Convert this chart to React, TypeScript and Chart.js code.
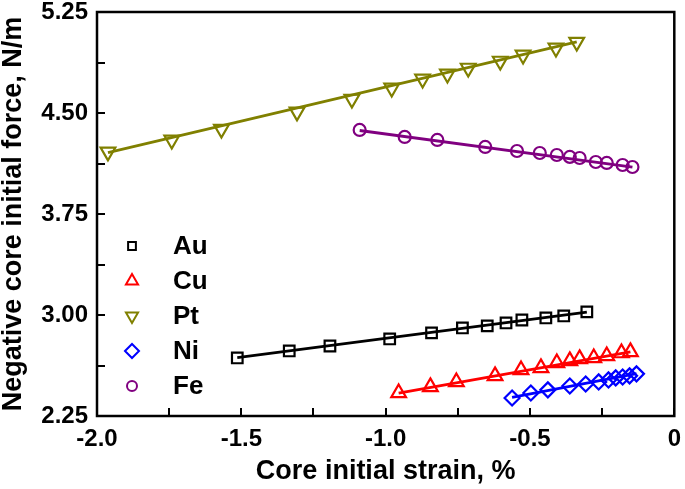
import React, { useEffect, useRef } from 'react';
import { Chart, registerables } from 'chart.js';
import { drawPoint } from 'chart.js/helpers';

Chart.register(...registerables);

const seriesNames = ['Au', 'Cu', 'Pt', 'Ni', 'Fe'];
const seriesColors = ['#000000', '#FF0000', '#808000', '#0000FF', '#800080'];

const auStrain = [-1.514, -1.334, -1.193, -0.986, -0.841, -0.734, -0.648, -0.583, -0.528, -0.445, -0.383, -0.303];
const auForce = [2.681, 2.733, 2.770, 2.822, 2.867, 2.904, 2.919, 2.941, 2.963, 2.978, 2.993, 3.023];

const cuStrain = [-0.955, -0.845, -0.755, -0.621, -0.531, -0.462, -0.407, -0.362, -0.328, -0.279, -0.234, -0.183, -0.152];
const cuForce = [2.421, 2.466, 2.503, 2.548, 2.592, 2.607, 2.644, 2.659, 2.674, 2.681, 2.696, 2.718, 2.726];

const ptStrain = [-1.962, -1.741, -1.569, -1.307, -1.117, -0.979, -0.872, -0.786, -0.714, -0.603, -0.524, -0.410, -0.338];
const ptForce = [4.211, 4.300, 4.381, 4.508, 4.604, 4.686, 4.753, 4.790, 4.834, 4.886, 4.931, 4.983, 5.027];

const niStrain = [-0.562, -0.497, -0.438, -0.362, -0.307, -0.262, -0.228, -0.203, -0.179, -0.155, -0.131];
const niForce = [2.384, 2.421, 2.444, 2.473, 2.488, 2.503, 2.518, 2.533, 2.540, 2.548, 2.563];

const feStrain = [-1.090, -0.934, -0.821, -0.655, -0.545, -0.466, -0.407, -0.362, -0.328, -0.272, -0.234, -0.179, -0.145];
const feForce = [4.374, 4.322, 4.300, 4.248, 4.218, 4.203, 4.188, 4.174, 4.166, 4.136, 4.129, 4.114, 4.099];

// fitted straight lines (end points)
const auFitStrain = [-1.514, -0.303];
const auFitForce = [2.683, 3.022];
const cuFitStrain = [-0.955, -0.152];
const cuFitForce = [2.420, 2.726];
const ptFitStrain = [-1.962, -0.338];
const ptFitForce = [4.205, 5.028];
const niFitStrain = [-0.562, -0.131];
const niFitForce = [2.388, 2.565];
const feFitStrain = [-1.090, -0.145];
const feFitForce = [4.370, 4.098];

const xMin = -2.0;
const xMax = 0;
const xMajorStep = 0.5;
const xMinorStep = 0.25;
const yMin = 2.25;
const yMax = 5.25;
const yMajorStep = 0.75;
const yMinorStep = 0.375;

const FONT = '"Liberation Sans", Arial, Helvetica, sans-serif';

const toPts = (xs: number[], ys: number[]) => xs.map((x, i) => ({ x, y: ys[i] }));

const markerStyles: any[] = [
  { style: 'rect', radius: 7.5, rotation: 0 },
  { style: 'triangle', radius: 8.5, rotation: 0 },
  { style: 'triangle', radius: 8.5, rotation: 180 },
  { style: 'rectRot', radius: 7.5, rotation: 0 },
  { style: 'circle', radius: 6, rotation: 0 },
];
const legendMarkerRadius = [5.5, 7, 7, 7, 5];

const frameAndLegend = {
  id: 'frameAndLegend',
  afterDraw(chart: any) {
    const { ctx, chartArea } = chart;
    const { left, right, top, bottom } = chartArea;
    const xs = chart.scales.x;
    const ys = chart.scales.y;
    ctx.save();
    ctx.strokeStyle = '#000';
    ctx.lineWidth = 2.5;
    ctx.strokeRect(left, top, right - left, bottom - top);
    const tl = 8;
    ctx.lineWidth = 2;
    ctx.beginPath();
    for (let v = xMin; v <= xMax + 1e-9; v += xMinorStep) {
      const p = Math.round(xs.getPixelForValue(v));
      ctx.moveTo(p, bottom);
      ctx.lineTo(p, bottom - tl);
    }
    for (let v = yMin; v <= yMax + 1e-9; v += yMinorStep) {
      const p = Math.round(ys.getPixelForValue(v));
      ctx.moveTo(left, p);
      ctx.lineTo(left + tl, p);
    }
    ctx.stroke();

    // legend
    const lx = 132;
    const tx = 173;
    const y0 = 246;
    const dy = 35;
    ctx.textBaseline = 'middle';
    ctx.textAlign = 'left';
    ctx.font = `bold 26px ${FONT}`;
    seriesNames.forEach((name, i) => {
      const cy = y0 + i * dy;
      ctx.strokeStyle = seriesColors[i];
      ctx.fillStyle = 'rgba(0,0,0,0)';
      ctx.lineWidth = 2;
      drawPoint(ctx, {
        pointStyle: markerStyles[i].style,
        radius: legendMarkerRadius[i],
        rotation: markerStyles[i].rotation,
        borderWidth: 2,
      } as any, lx, cy);
      ctx.fillStyle = '#000';
      ctx.fillText(name, tx, cy + 1);
    });
    ctx.restore();
  },
};

export default function App() {
  const ref = useRef<HTMLCanvasElement>(null);
  useEffect(() => {
    if (!ref.current) return;
    const markerData = [
      toPts(auStrain, auForce),
      toPts(cuStrain, cuForce),
      toPts(ptStrain, ptForce),
      toPts(niStrain, niForce),
      toPts(feStrain, feForce),
    ];
    const fitData = [
      toPts(auFitStrain, auFitForce),
      toPts(cuFitStrain, cuFitForce),
      toPts(ptFitStrain, ptFitForce),
      toPts(niFitStrain, niFitForce),
      toPts(feFitStrain, feFitForce),
    ];
    const datasets: any[] = [];
    seriesNames.forEach((name, i) => {
      datasets.push({
        label: name + ' fit',
        data: fitData[i],
        showLine: true,
        borderColor: seriesColors[i],
        borderWidth: 2.8,
        pointRadius: 0,
        fill: false,
      });
      datasets.push({
        label: name,
        data: markerData[i],
        showLine: false,
        borderColor: seriesColors[i],
        backgroundColor: 'rgba(0,0,0,0)',
        pointStyle: markerStyles[i].style,
        pointRadius: markerStyles[i].radius,
        pointRotation: markerStyles[i].rotation,
        pointBorderWidth: 2.2,
      });
    });
    const chart = new Chart(ref.current, {
      type: 'scatter',
      data: { datasets },
      options: {
        responsive: false,
        animation: false,
        devicePixelRatio: 1,
        layout: { padding: { top: 12, right: 8, left: 0, bottom: 0 } },
        plugins: { legend: { display: false }, tooltip: { enabled: false } },
        scales: {
          x: {
            type: 'linear',
            min: xMin,
            max: xMax,
            grid: { display: false, drawTicks: false, tickLength: 0 },
            border: { display: false },
            afterFit: (s: any) => {
              s.height = 73;
              s.paddingLeft = 0;
              s.paddingRight = 0;
            },
            ticks: {
              stepSize: xMajorStep,
              color: '#000',
              padding: 9,
              maxRotation: 0,
              font: { family: FONT, size: 24, weight: 'bold' },
              callback: (v: any) => (Number(v) === 0 ? '0' : Number(v).toFixed(1)),
            },
            title: {
              display: true,
              text: 'Core initial strain, %',
              color: '#000',
              padding: { top: 0, bottom: 4 },
              font: { family: FONT, size: 27, weight: 'bold', lineHeight: 1 },
            },
          },
          y: {
            type: 'linear',
            min: yMin,
            max: yMax,
            grid: { display: false, drawTicks: false, tickLength: 0 },
            border: { display: false },
            afterFit: (s: any) => {
              s.width = 97;
              s.paddingTop = 0;
              s.paddingBottom = 0;
            },
            ticks: {
              stepSize: yMajorStep,
              color: '#000',
              padding: 9,
              font: { family: FONT, size: 24, weight: 'bold' },
              callback: (v: any) => Number(v).toFixed(2),
            },
            title: {
              display: true,
              text: 'Negative core initial force, N/m',
              color: '#000',
              padding: { top: 0, bottom: 0 },
              font: { family: FONT, size: 27, weight: 'bold', lineHeight: 1 },
            },
          },
        },
      },
      plugins: [frameAndLegend],
    });
    return () => chart.destroy();
  }, []);
  return (
    <div style={{ position: 'absolute', left: 0, top: 0, width: 685, height: 489, background: '#fff' }}>
      <canvas ref={ref} width={685} height={489} />
    </div>
  );
}
